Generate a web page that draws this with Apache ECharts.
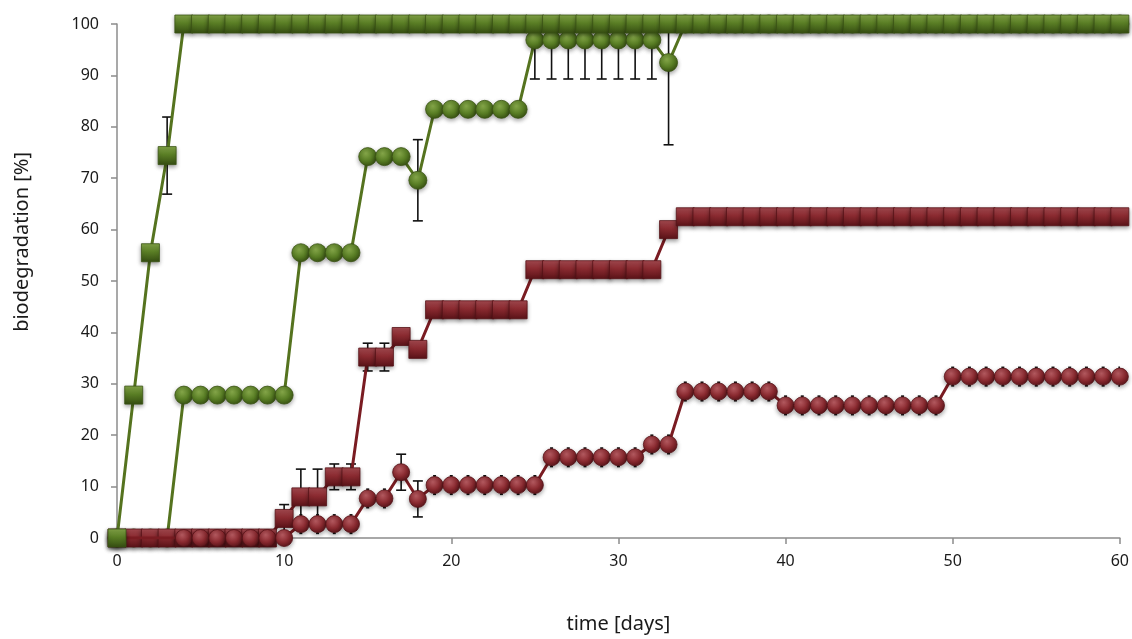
<!DOCTYPE html>
<html>
<head>
<meta charset="utf-8">
<script src="https://cdn.jsdelivr.net/npm/echarts@6/dist/echarts.min.js"></script>
<style>
  html, body { margin: 0; padding: 0; background: #ffffff; }
  #chart { width: 1132px; height: 639px; }
</style>
</head>
<body>
<div id="chart"></div>
<script>
// ---------- data ----------
const days = [0,1,2,3,4,5,6,7,8,9,10,11,12,13,14,15,16,17,18,19,20,21,22,23,24,25,26,27,28,29,30,31,32,33,34,35,36,37,38,39,40,41,42,43,44,45,46,47,48,49,50,51,52,53,54,55,56,57,58,59,60];

// green squares
const greenSquare = [0,27.8,55.5,74.4,100,100,100,100,100,100,100,100,100,100,100,100,100,100,100,100,100,100,100,100,100,100,100,100,100,100,100,100,100,100,100,100,100,100,100,100,100,100,100,100,100,100,100,100,100,100,100,100,100,100,100,100,100,100,100,100,100];
const greenSquareErr = [0,0,0,7.5,0,0,0,0,0,0,0,0,0,0,0,0,0,0,0,0,0,0,0,0,0,0,0,0,0,0,0,0,0,0,0,0,0,0,0,0,0,0,0,0,0,0,0,0,0,0,0,0,0,0,0,0,0,0,0,0,0];

// green circles
const greenCircle = [0,0,0,0,27.8,27.8,27.8,27.8,27.8,27.8,27.8,55.5,55.5,55.5,55.5,74.2,74.2,74.2,69.6,83.4,83.4,83.4,83.4,83.4,83.4,96.9,96.9,96.9,96.9,96.9,96.9,96.9,96.9,92.5,100,100,100,100,100,100,100,100,100,100,100,100,100,100,100,100,100,100,100,100,100,100,100,100,100,100,100];
const greenCircleErr = [0,0,0,0,0,0,0,0,0,0,0,0,0,0,0,0,0,0,7.9,0,0,0,0,0,0,7.6,7.6,7.6,7.6,7.6,7.6,7.6,7.6,16,1.4,1.4,1.4,1.4,1.4,1.4,0,0,0,0,0,0,0,0,0,0,0,0,0,0,0,0,0,0,0,0,0];

// dark red squares
const redSquare = [0,0,0,0,0,0,0,0,0,0,3.8,8.0,8.0,11.9,11.9,35.2,35.2,39.2,36.7,44.4,44.4,44.4,44.4,44.4,44.4,52.2,52.2,52.2,52.2,52.2,52.2,52.2,52.2,60.0,62.5,62.5,62.5,62.5,62.5,62.5,62.5,62.5,62.5,62.5,62.5,62.5,62.5,62.5,62.5,62.5,62.5,62.5,62.5,62.5,62.5,62.5,62.5,62.5,62.5,62.5,62.5];
const redSquareErr = [0,0,0,0,0,0,0,0,0,0,2.7,5.4,5.4,2.5,2.5,2.7,2.7,0,0,0,0,0,0,0,0,0,0,0,0,0,0,0,0,0,0,0,0,0,0,0,0,0,0,0,0,0,0,0,0,0,0,0,0,0,0,0,0,0,0,0,0];

// dark red circles
const redCircle = [0,null,null,null,0,0,0,0,0,0,0,2.7,2.7,2.7,2.7,7.7,7.7,12.8,7.6,10.3,10.3,10.3,10.3,10.3,10.3,10.3,15.7,15.7,15.7,15.7,15.7,15.7,18.2,18.2,28.5,28.5,28.5,28.5,28.5,28.5,25.8,25.8,25.8,25.8,25.8,25.8,25.8,25.8,25.8,25.8,31.4,31.4,31.4,31.4,31.4,31.4,31.4,31.4,31.4,31.4,31.4];
const redCircleErr = [0,0,0,0,0,0,0,0,0,0,0,1.8,1.8,1.8,1.8,1.8,1.8,3.5,3.5,1.8,1.8,1.8,1.8,1.8,1.8,1.8,1.8,1.8,1.8,1.8,1.8,1.8,1.8,1.8,1.8,1.8,1.8,1.8,1.8,1.8,1.8,1.8,1.8,1.8,1.8,1.8,1.8,1.8,1.8,1.8,1.8,1.8,1.8,1.8,1.8,1.8,1.8,1.8,1.8,1.8,1.8];

const xTicks = [0,10,20,30,40,50,60];
const yTicks = [0,10,20,30,40,50,60,70,80,90,100];

// ---------- helpers ----------
function pts(vals) { return days.map((d, i) => [d, vals[i]]); }
function errPts(vals, errs) {
  const out = [];
  days.forEach((d, i) => {
    if (vals[i] != null && errs[i] > 0) out.push([d, vals[i] - errs[i], vals[i] + errs[i], errs[i]]);
  });
  return out;
}
function errRender(params, api) {
  const x = api.value(0), lo = api.value(1), hi = api.value(2), e = api.value(3);
  const a = api.coord([x, hi]), b = api.coord([x, lo]);
  const w = e < 2 ? 1.5 : 5;
  const st = { stroke: '#111111', lineWidth: 1.6 };
  return { type: 'group', children: [
    { type: 'line', shape: { x1: a[0], y1: a[1], x2: b[0], y2: b[1] }, style: st },
    { type: 'line', shape: { x1: a[0] - w, y1: a[1], x2: a[0] + w, y2: a[1] }, style: st },
    { type: 'line', shape: { x1: b[0] - w, y1: b[1], x2: b[0] + w, y2: b[1] }, style: st }
  ]};
}
function radial(light, mid, dark) {
  return { type: 'radial', x: 0.4, y: 0.32, r: 0.75,
    colorStops: [{ offset: 0, color: light }, { offset: 0.55, color: mid }, { offset: 1, color: dark }] };
}
function squareGrad(light, mid, dark) {
  return { type: 'linear', x: 0, y: 0, x2: 0, y2: 1,
    colorStops: [{ offset: 0, color: light }, { offset: 0.45, color: mid }, { offset: 1, color: dark }] };
}

const GREEN_LINE = '#55731f';
const RED_LINE = '#7a1c22';

const shadow = { shadowBlur: 4, shadowColor: 'rgba(0,0,0,0.35)', shadowOffsetY: 2 };

const chart = echarts.init(document.getElementById('chart'), null, { renderer: 'canvas' });
chart.setOption({
  animation: false,
  backgroundColor: '#ffffff',
  grid: { left: 117, right: 11, top: 24, bottom: 92, containLabel: false },
  xAxis: {
    type: 'value', min: 0, max: 60, interval: 10,
    name: 'time [days]', nameLocation: 'middle', nameGap: 76,
    nameTextStyle: { fontFamily: 'Noto Sans', fontSize: 20, color: '#1a1a1a' },
    axisLine: { show: true, lineStyle: { color: '#8c8c8c', width: 1.5 } },
    axisTick: { show: true, length: 6, lineStyle: { color: '#8c8c8c', width: 1.5 } },
    axisLabel: { fontFamily: 'Noto Sans', fontSize: 16, color: '#1a1a1a', margin: 15,
      formatter: v => xTicks.includes(v) ? String(v) : '' },
    splitLine: { show: false }
  },
  yAxis: {
    type: 'value', min: 0, max: 100, interval: 10,
    axisLine: { show: true, lineStyle: { color: '#8c8c8c', width: 1.5 } },
    axisTick: { show: true, length: 6, lineStyle: { color: '#8c8c8c', width: 1.5 } },
    axisLabel: { fontFamily: 'Noto Sans', fontSize: 16, color: '#1a1a1a', margin: 18,
      formatter: v => yTicks.includes(v) ? String(v) : '' },
    splitLine: { show: false }
  },
  graphic: [{
    type: 'text', left: 12, top: 152, rotation: Math.PI / 2,
    style: { text: 'biodegradation [%]', fontFamily: 'Noto Sans', fontSize: 20, fill: '#1a1a1a' }
  }],
  series: [
    { type: 'custom', name: 'gc-err', renderItem: errRender, data: errPts(greenCircle, greenCircleErr), clip: true, z: 1 },
    { type: 'custom', name: 'gs-err', renderItem: errRender, data: errPts(greenSquare, greenSquareErr), clip: true, z: 1 },
    { type: 'custom', name: 'rs-err', renderItem: errRender, data: errPts(redSquare, redSquareErr), clip: true, z: 1 },
    { type: 'custom', name: 'rc-err', renderItem: errRender, data: errPts(redCircle, redCircleErr), clip: true, z: 1 },
    {
      type: 'line', name: 'green circles', data: pts(greenCircle), z: 2,
      symbol: 'circle', symbolSize: 18, connectNulls: true,
      lineStyle: { color: GREEN_LINE, width: 3 },
      itemStyle: Object.assign({ color: radial('#86a84a', '#587d24', '#344b10'), borderColor: '#3a5314', borderWidth: 0.8 }, shadow)
    },
    {
      type: 'line', name: 'red squares', data: pts(redSquare), z: 3,
      symbol: 'rect', symbolSize: 18, connectNulls: true,
      lineStyle: { color: RED_LINE, width: 3 },
      itemStyle: Object.assign({ color: squareGrad('#a84c52', '#8a2a30', '#5a1318'), borderColor: '#561217', borderWidth: 0.8 }, shadow)
    },
    {
      type: 'line', name: 'red circles', data: pts(redCircle), z: 4,
      symbol: 'circle', symbolSize: 17, connectNulls: true,
      lineStyle: { color: RED_LINE, width: 3 },
      itemStyle: Object.assign({ color: radial('#b65b61', '#8a2a30', '#521116'), borderColor: '#561217', borderWidth: 0.8 }, shadow)
    },
    {
      type: 'line', name: 'green squares', data: pts(greenSquare), z: 5,
      symbol: 'rect', symbolSize: 18, connectNulls: true,
      lineStyle: { color: GREEN_LINE, width: 3 },
      itemStyle: Object.assign({ color: squareGrad('#86a84a', '#5a7e25', '#354d12'), borderColor: '#3a5314', borderWidth: 0.8 }, shadow)
    }
  ]
});
</script>
</body>
</html>
